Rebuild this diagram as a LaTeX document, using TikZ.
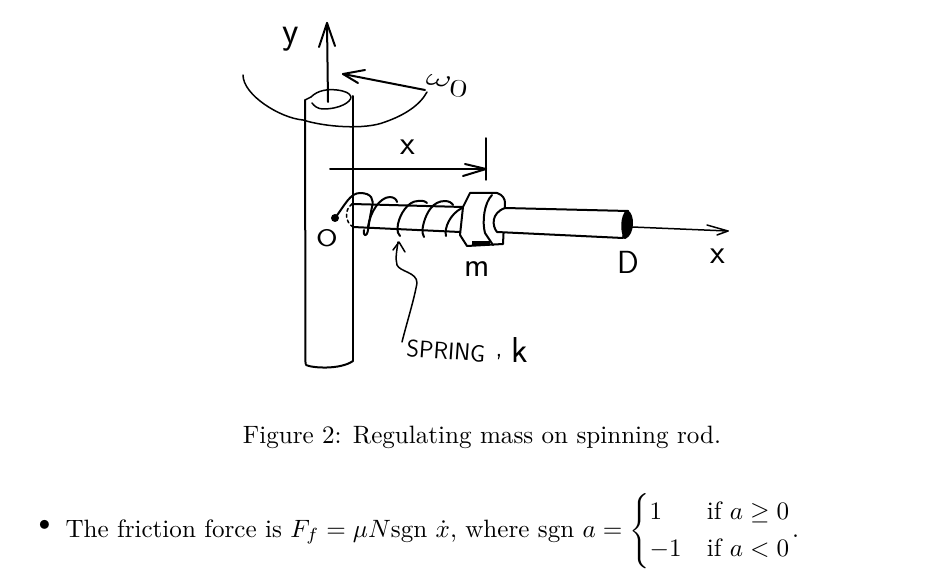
\documentclass[tikz,border=0pt]{standalone}
\usepackage{amsmath,amssymb}
\tikzset{
  ink/.style={line width=2pt,line cap=round,line join=round,black},
  thin ink/.style={line width=1.5pt,line cap=round,line join=round,black},
  hand/.style={font=\sffamily\fontsize{34}{36}\selectfont,inner sep=0pt},
  body/.style={font=\normalsize,scale=2.51,inner sep=0pt}
}
\begin{document}
\begin{tikzpicture}[x=1pt,y=-1pt]
\useasboundingbox (0,0) rectangle (948,580);
% column
\draw[ink] (305,100) -- (305.5,364);
\draw[ink] (353,96) -- (353,361);
\draw[ink] (306,365) .. controls (312,368) and (340,370) .. (353,361);
\draw[thin ink] (305,100) -- (311,97);
\draw[thin ink] (311,97) .. controls (318,90) and (328,89) .. (337,90) .. controls (345,91) and (350,93) .. (351,97) .. controls (351,102) and (340,109) .. (323,109) .. controls (318,109) and (314,106) .. (312,103);
% y axis
\draw[ink] (328,102) -- (327,23);
\draw[ink] (319,47) -- (327,23) -- (335,46);
\node[hand,font=\sffamily\fontsize{38}{40}\selectfont] (ylab) at (291,39) {y};
% spin arc and arrow
\draw[thin ink] (243,75) .. controls (243,95) and (280,118) .. (303,120) .. controls (325,127) and (365,130) .. (385,122) .. controls (405,115) and (420,105) .. (427,92);
\draw[ink] (425,90) -- (343,74);
\draw[ink] (365,70) -- (343,74) -- (358,83);
\node[hand,rotate=-8,xscale=1.6,font=\fontsize{40}{44}\selectfont] (omega) at (447,86) {$\omega_{0}$};
% x dimension
\draw[ink] (330,169) -- (486,169);
\draw[ink] (465,164) -- (486,169) -- (463,176);
\draw[thin ink] (486,138) -- (486,180);
\node[hand] (xdim) at (408,147) {x};
% rod, left part
\draw[ink] (352,204) -- (463,207);
\draw[ink] (353,227) -- (460,232);
\draw[thin ink,dashed] (352,204) .. controls (344,210) and (345,222) .. (353,227);
% O
\fill (335,218) circle (4pt);
\node[hand,font=\sffamily\fontsize{24}{26}\selectfont,xscale=1.3] (olab) at (327,238) {O};
% spring
\draw[ink] (335,218) .. controls (345,205) and (350,193) .. (360,193) .. controls (372,193) and (374,200) .. (372,207) .. controls (370,216) and (369,224) .. (368,230) .. controls (367,237) and (363,237) .. (364,230);
\draw[ink] (368,227) .. controls (370,212) and (380,197) .. (390,197) .. controls (394,197) and (397,200) .. (397,202);
\draw[ink] (400,236) .. controls (396,232) and (398,226) .. (398,224) .. controls (400,214) and (408,201) .. (418,201) .. controls (423,200) and (426,202) .. (427,203);
\draw[ink] (424,237) .. controls (421,232) and (423,226) .. (424,222) .. controls (427,212) and (433,201) .. (445,201) .. controls (449,201) and (452,203) .. (453,205);
\draw[ink] (446,236) .. controls (444,228) and (450,214) .. (462,208);
% mass
\draw[ink,fill=white] (470,193) -- (497,193) .. controls (503,195) and (505,199) .. (505,203) -- (503,244) -- (467,246) -- (460,235) -- (463,207) -- cycle;
\draw[ink] (492,195) .. controls (484,203) and (482,222) .. (485,233) -- (493,245);
\fill (472,241) rectangle (490,245);
% rod, right part
\draw[ink,fill=white] (505,208) -- (628,211) -- (623,238) -- (497,232) .. controls (492,226) and (491,213) .. (505,208) -- cycle;
\draw[ink,fill=black] (627,211) .. controls (634,214) and (634,234) .. (625,238) .. controls (621,232) and (621,216) .. (627,211) -- cycle;
% x axis
\draw[thin ink] (632,227) -- (728,231);
\draw[thin ink] (707,225) -- (728,231) -- (717,235);
\node[hand] (xlab) at (718,256) {x};
\node[hand,font=\sffamily\fontsize{32}{34}\selectfont] (dlab) at (628,262) {D};
\node[hand] (mlab) at (477,269) {m};
% spring leader
\node[hand,rotate=-4,font=\sffamily\fontsize{24}{26}\selectfont] (springlab) at (446,351) {SPRING};
\node[hand,font=\sffamily\fontsize{26}{28}\selectfont] (comma) at (499,357) {,};
\node[hand,font=\sffamily\fontsize{36}{38}\selectfont] (klab) at (520,350) {k};
\draw[thin ink] (402,342) .. controls (407,322) and (414,300) .. (417,283) .. controls (417,272) and (400,272) .. (397,265) .. controls (395,258) and (397,250) .. (398,242);
\draw[thin ink] (393,250) -- (399,242) -- (405,252);
% caption and bullet line
\node[body,anchor=base] (caption) at (482,443) {Figure 2: Regulating mass on spinning rod.};
\node[font=\fontsize{40}{40}\selectfont,inner sep=0pt] (bullet) at (45,528) {\textbullet};
\node[body,anchor=base west] (friction) at (65,537) {The friction force is $F_f=\mu N\mathrm{sgn}\ \dot{x}$, where $\mathrm{sgn}\ a=\begin{cases}1 & \text{if } a\geq 0\\ -1 & \text{if } a<0\end{cases}$.};
\end{tikzpicture}
\end{document}
